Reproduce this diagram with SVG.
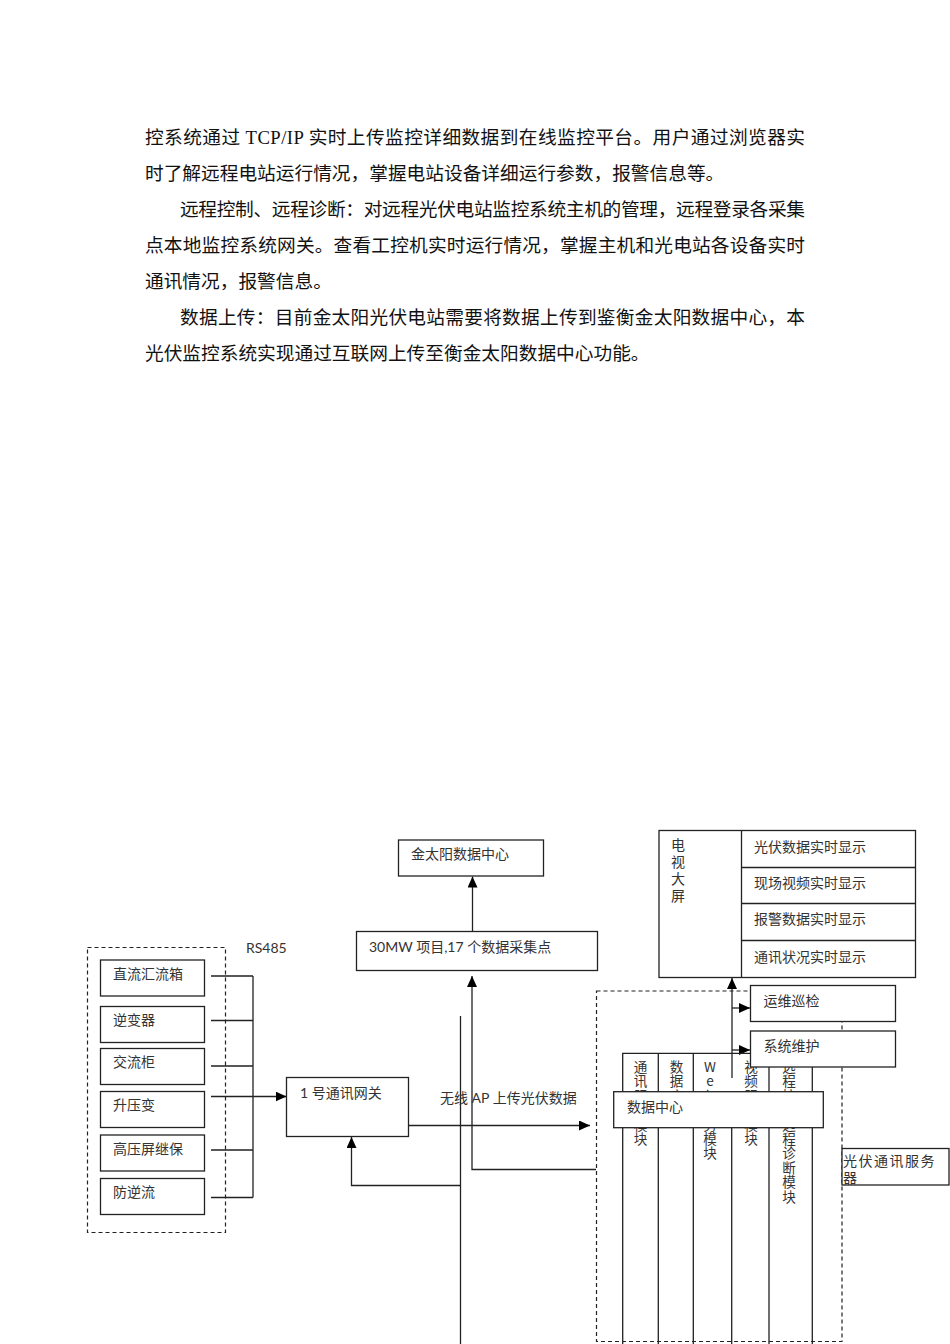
<svg xmlns="http://www.w3.org/2000/svg" width="950" height="1344" viewBox="0 0 950 1344">
<defs>
<style>
.body{font-family:"Liberation Serif","Noto Sans CJK SC",serif;font-size:18.7px;fill:#111}
.lbl{font-family:"Lato","Noto Sans CJK SC",sans-serif;font-size:14px;fill:#333}
.col{font-family:"Noto Sans CJK SC",sans-serif;font-size:13.6px;letter-spacing:0.8px;fill:#333;writing-mode:vertical-rl;text-orientation:upright}
.tv{font-family:"Noto Sans CJK SC",sans-serif;font-size:14px;letter-spacing:3px;fill:#333;writing-mode:vertical-rl;text-orientation:upright}
.box{fill:#fff;stroke:#222;stroke-width:1.3}
.dash{fill:none;stroke:#222;stroke-width:1.2;stroke-dasharray:4,3}
.ln{fill:none;stroke:#222;stroke-width:1.3}
</style>
<marker id="ah" markerUnits="userSpaceOnUse" markerWidth="12" markerHeight="10" refX="11" refY="5" orient="auto">
<path d="M0,0 L11,5 L0,10 Z" fill="#000"/>
</marker>
</defs>
<rect width="950" height="1344" fill="#fff"/>

<g id="body-text">
<text class="body" x="145" y="144" textLength="660" lengthAdjust="spacing">控系统通过 TCP/IP 实时上传监控详细数据到在线监控平台。用户通过浏览器实</text>
<text class="body" x="145" y="180">时了解远程电站运行情况，掌握电站设备详细运行参数，报警信息等。</text>
<text class="body" x="180" y="216" textLength="625" lengthAdjust="spacing">远程控制、远程诊断：对远程光伏电站监控系统主机的管理，远程登录各采集</text>
<text class="body" x="145" y="252" textLength="660" lengthAdjust="spacing">点本地监控系统网关。查看工控机实时运行情况，掌握主机和光电站各设备实时</text>
<text class="body" x="145" y="288">通讯情况，报警信息。</text>
<text class="body" x="180" y="324" textLength="625" lengthAdjust="spacing">数据上传：目前金太阳光伏电站需要将数据上传到鉴衡金太阳数据中心，本</text>
<text class="body" x="145" y="360">光伏监控系统实现通过互联网上传至衡金太阳数据中心功能。</text>
</g>

<g id="left-group">
<rect class="dash" x="87.5" y="947.5" width="138" height="285"/>
<text class="lbl" x="246" y="953">RS485</text>
</g>
<g id="n-dc-box"><rect class="box" x="100.5" y="960" width="104" height="36"/><text class="lbl" x="113" y="979">直流汇流箱</text></g>
<g id="n-inverter"><rect class="box" x="100.5" y="1006.5" width="104" height="36"/><text class="lbl" x="113" y="1025">逆变器</text></g>
<g id="n-ac"><rect class="box" x="100.5" y="1048.5" width="104" height="36"/><text class="lbl" x="113" y="1067">交流柜</text></g>
<g id="n-boost"><rect class="box" x="100.5" y="1091.5" width="104" height="36"/><text class="lbl" x="113" y="1110">升压变</text></g>
<g id="n-hv"><rect class="box" x="100.5" y="1135" width="104" height="36"/><text class="lbl" x="113" y="1154">高压屏继保</text></g>
<g id="n-anti"><rect class="box" x="100.5" y="1178.5" width="104" height="36"/><text class="lbl" x="113" y="1197">防逆流</text></g>

<g id="connectors">
<path class="ln" d="M211,976 H253 M211,1020.5 H253 M211,1066 H253 M211,1096.5 H253 M211,1150 H253 M211,1197.5 H253 M253,976 V1197.5"/>
<path class="ln" d="M253,1096.5 H286.5" marker-end="url(#ah)"/>
<path class="ln" d="M408.5,1125.5 H590" marker-end="url(#ah)"/>
<path class="ln" d="M460.5,1016 V1344"/>
<path class="ln" d="M460.5,1185.5 H351.5 V1137" marker-end="url(#ah)"/>
<path class="ln" d="M596,1169.5 H472 V976" marker-end="url(#ah)"/>
<path class="ln" d="M472.5,931.5 V876.5" marker-end="url(#ah)"/>
<path class="ln" d="M732,1078 V978" marker-end="url(#ah)"/>
<path class="ln" d="M732,1008 H750" marker-end="url(#ah)"/>
<path class="ln" d="M732,1050 H750" marker-end="url(#ah)"/>
</g>

<g id="n-gateway"><rect class="box" x="286.5" y="1077.5" width="122" height="59"/><text class="lbl" x="300" y="1097.5">1 号通讯网关</text></g>
<g id="label-ap"><text class="lbl" x="440" y="1103">无线 AP 上传光伏数据</text></g>

<g id="n-jty"><rect class="box" x="398.5" y="840" width="145" height="36"/><text class="lbl" x="411" y="859">金太阳数据中心</text></g>
<g id="n-30mw"><rect class="box" x="356.5" y="931.5" width="241" height="39"/><text class="lbl" x="369" y="951.5">30MW 项目,17 个数据采集点</text></g>

<g id="n-tv">
<rect class="box" x="659" y="830.5" width="256.5" height="147"/>
<path class="ln" d="M741.5,830.5 V977.5 M741.5,867.5 H915.5 M741.5,903.5 H915.5 M741.5,940.5 H915.5"/>
<text class="tv" x="678" y="838">电视大屏</text>
<text class="lbl" x="754" y="851.5">光伏数据实时显示</text>
<text class="lbl" x="754" y="888">现场视频实时显示</text>
<text class="lbl" x="754" y="924">报警数据实时显示</text>
<text class="lbl" x="754" y="961.5">通讯状况实时显示</text>
</g>

<g id="server-group">
<rect class="dash" x="596.5" y="991" width="245.5" height="350.5"/>
</g>

<g id="n-modules">
<path class="ln" d="M622.7,1350 V1053.3 H812.3 V1350 M658.3,1053.3 V1350 M693.3,1053.3 V1350 M731.7,1092 V1350 M769,1053.3 V1350"/>
<text class="col" x="640.5" y="1060">通讯服务模块</text>
<text class="col" x="676.5" y="1060">数据库</text>
<text class="col" x="710" y="1060">Web服务模块</text>
<text class="col" x="751" y="1060">视频服务模块</text>
<text class="col" x="789" y="1060">远程控制远程诊断模块</text>
</g>

<g id="n-patrol"><rect class="box" x="750.5" y="985.5" width="145" height="36"/><text class="lbl" x="763.5" y="1005.5">运维巡检</text></g>
<g id="n-maint"><rect class="box" x="750.5" y="1031" width="145" height="36"/><text class="lbl" x="763.5" y="1051">系统维护</text></g>
<g id="n-datacenter"><rect class="box" x="613.7" y="1091.7" width="209.6" height="36"/><text class="lbl" x="627" y="1111.5">数据中心</text></g>
<g id="n-server"><rect class="box" x="842" y="1148.5" width="107" height="36.5"/><text class="lbl" x="843" y="1166" letter-spacing="1.5">光伏通讯服务</text><text class="lbl" x="843" y="1182.5" font-size="10.5">器</text></g>
</svg>
